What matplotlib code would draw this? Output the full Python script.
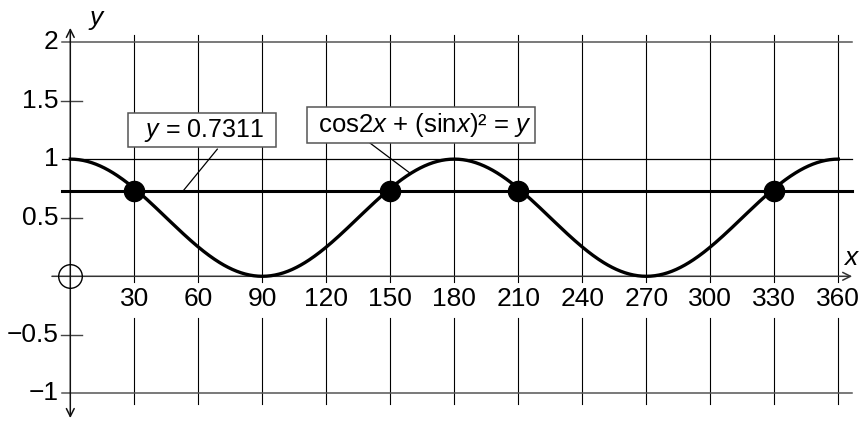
import numpy as np
import matplotlib
matplotlib.use("Agg")
import matplotlib.pyplot as plt

plt.rcParams['font.family'] = ['Liberation Sans', 'DejaVu Sans']
plt.rcParams['mathtext.fontset'] = 'custom'
plt.rcParams['mathtext.rm'] = 'Liberation Sans'
plt.rcParams['mathtext.it'] = 'Liberation Sans:italic'

# chart data
x_ticks = [30, 60, 90, 120, 150, 180, 210, 240, 270, 300, 330, 360]
y_ticks = [2, 1.5, 1, 0.5, -0.5, -1]
y_tick_labels = ["2", "1.5", "1", "0.5", "\u22120.5", "\u22121"]
y_grid = [2, 1, -1]
line_value = 0.7311
intersections_x = [30, 150, 210, 330]

fig = plt.figure(figsize=(8.62, 4.21), dpi=100)
ax = fig.add_axes([0, 0, 1, 1])
ax.set_xlim(-32.95, 371.1)
ax.set_ylim(-1.235, 2.358)
ax.axis("off")

# vertical grid lines, broken behind the x tick labels
for xv in x_ticks:
    ax.plot([xv, xv], [2.06, -0.05], color="black", lw=0.8, zorder=1)
    ax.plot([xv, xv], [-0.355, -1.09], color="black", lw=0.8, zorder=1)
    ax.text(xv, -0.19, str(xv), ha="center", va="center", fontsize=19)

# horizontal grid lines
for yv in y_grid:
    c = "black" if yv == 1 else "#555555"
    ax.plot([-3.9, 366.5], [yv, yv], color=c, lw=1.1 if yv != 1 else 0.9, zorder=1)
# short ticks on y axis and labels
for yv, lab in zip(y_ticks, y_tick_labels):
    if yv not in y_grid:
        ax.plot([-4.2, 5.3], [yv, yv], color="#444444", lw=1.0, zorder=1)
    ax.text(-5.5, yv, lab, ha="right", va="center", fontsize=19)

# axes with arrows
ax.annotate("", xy=(366.5, 0), xytext=(-8.6, 0),
            arrowprops=dict(arrowstyle="->", color="#333333", lw=1.1,
                            mutation_scale=14, shrinkA=0, shrinkB=0), zorder=2)
ax.annotate("", xy=(0, 2.12), xytext=(0, -1.21),
            arrowprops=dict(arrowstyle="<->", color="#111111", lw=1.1,
                            mutation_scale=14, shrinkA=0, shrinkB=0), zorder=2)
ax.text(12.5, 2.19, r"$y$", ha="center", va="center", fontsize=19)
ax.text(366.4, 0.16, r"$x$", ha="center", va="center", fontsize=19)

# origin circle
ax.plot([0], [0], marker="o", markersize=17, markerfacecolor="none",
        markeredgecolor="black", markeredgewidth=1.0, zorder=3)

# curve and horizontal line
xs = np.linspace(0, 360, 721)
rad = np.radians(xs)
ax.plot(xs, np.cos(2 * rad) + np.sin(rad) ** 2, color="black", lw=2.4, zorder=4)
ax.plot([-3.9, 366.5], [line_value, line_value], color="black", lw=2.2, zorder=4)
ax.plot(intersections_x, [line_value] * len(intersections_x), "o",
        color="black", markersize=14.5, zorder=5)

# labels with leader lines
ax.plot([68.9, 53.0], [1.085, line_value], color="black", lw=0.9, zorder=4)
ax.plot([140.5, 159.2], [1.137, 0.881], color="black", lw=0.9, zorder=4)
box = dict(boxstyle="square,pad=0.15", facecolor="white", edgecolor="#555555", lw=1.1)
ax.text(61.7, 1.248, "  $y$ = 0.7311  ", ha="center", va="center", fontsize=18,
        bbox=box, zorder=6)
ax.text(164.4, 1.294, " cos2$x$ + (sin$x$)\u00b2 = $y$ ", ha="center", va="center",
        fontsize=18.5, bbox=box, zorder=6)

fig.savefig("out.png", dpi=100)
plt.close(fig)
